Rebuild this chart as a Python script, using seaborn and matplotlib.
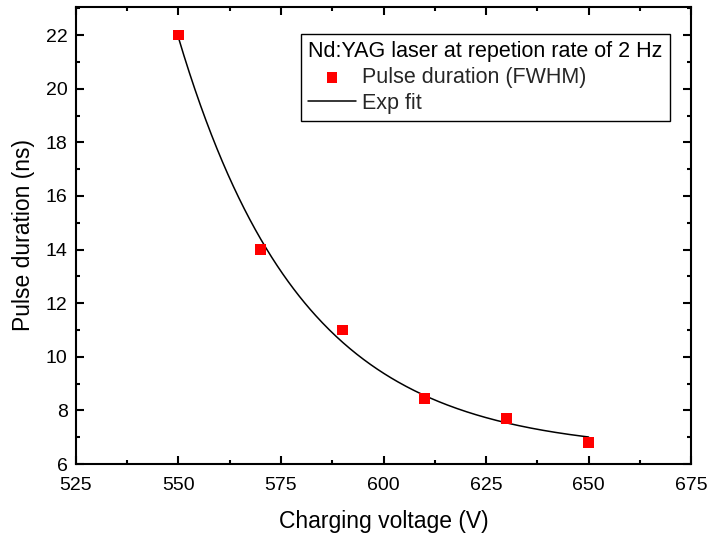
import numpy as np
import pandas as pd
import matplotlib
matplotlib.use("Agg")
import matplotlib.pyplot as plt
from matplotlib.ticker import MultipleLocator
import seaborn as sns

# Measured pulse duration vs. charging voltage
voltage = [550, 570, 590, 610, 630, 650]
duration = [22.0, 14.0, 11.0, 8.45, 7.7, 6.8]

x_ticks = [525, 550, 575, 600, 625, 650, 675]
y_ticks = [6, 8, 10, 12, 14, 16, 18, 20, 22]

sns.set_theme(style="ticks")
plt.rcParams["font.family"] = ["Liberation Sans", "DejaVu Sans"]

df = pd.DataFrame({"voltage": voltage, "duration": duration})

# Exponential decay fit y = y0 + A*exp(-(x - x0)/t), least squares over t
x = np.asarray(voltage, float)
y = np.asarray(duration, float)
x0 = x[0]
best = None
for t in np.linspace(5, 200, 4000):
    e = np.exp(-(x - x0) / t)
    M = np.column_stack([np.ones_like(e), e])
    coef, *_ = np.linalg.lstsq(M, y, rcond=None)
    r = np.sum((M @ coef - y) ** 2)
    if best is None or r < best[0]:
        best = (r, t, coef)
_, t_fit, (y0_fit, a_fit) = best
xf = np.linspace(x.min(), x.max(), 300)
fit_df = pd.DataFrame({"voltage": xf,
                       "duration": y0_fit + a_fit * np.exp(-(xf - x0) / t_fit)})

fig = plt.figure(figsize=(7.08, 5.36), dpi=100)
ax = fig.add_axes([0.1073, 0.1343, 0.8688, 0.8527])

sns.lineplot(data=fit_df, x="voltage", y="duration", color="black",
             linewidth=1.1, ax=ax, label="Exp fit", zorder=2)
sns.scatterplot(data=df, x="voltage", y="duration", color="#ff0000",
                marker="s", s=60, edgecolor="none", ax=ax,
                label="Pulse duration (FWHM)", zorder=3)

ax.set_xlim(525, 675)
ax.set_ylim(6, 23.05)
ax.set_xticks(x_ticks)
ax.set_yticks(y_ticks)
ax.xaxis.set_minor_locator(MultipleLocator(12.5))
ax.yaxis.set_minor_locator(MultipleLocator(1))

for s in ax.spines.values():
    s.set_visible(True)
    s.set_linewidth(1.5)
    s.set_color("black")
ax.tick_params(which="both", direction="in", top=True, right=True,
               width=1.5, color="black", labelsize=14, labelcolor="black")
ax.tick_params(which="major", length=6)
ax.tick_params(which="minor", length=3)
ax.tick_params(axis="x", which="major", pad=9)
ax.tick_params(axis="y", which="major", pad=6)

ax.set_xlabel("Charging voltage (V)", fontsize=16.5, labelpad=12, color="black")
ax.set_ylabel("Pulse duration (ns)", fontsize=16.5, labelpad=8, color="black")

handles, labels = ax.get_legend_handles_labels()
order = [labels.index("Pulse duration (FWHM)"), labels.index("Exp fit")]
leg = ax.legend([handles[i] for i in order], [labels[i] for i in order],
                title="Nd:YAG laser at repetion rate of 2 Hz",
                title_fontsize=15.5, fontsize=15.5, loc="upper right",
                bbox_to_anchor=(0.966, 0.941), frameon=True, fancybox=False,
                edgecolor="black", framealpha=1, handlelength=2.2,
                handletextpad=0.3, borderpad=0.35, labelspacing=0.22,
                borderaxespad=0.0, alignment="left")
leg.get_frame().set_linewidth(1.0)
leg.get_title().set_color("black")

fig.savefig("out.png", dpi=100)
